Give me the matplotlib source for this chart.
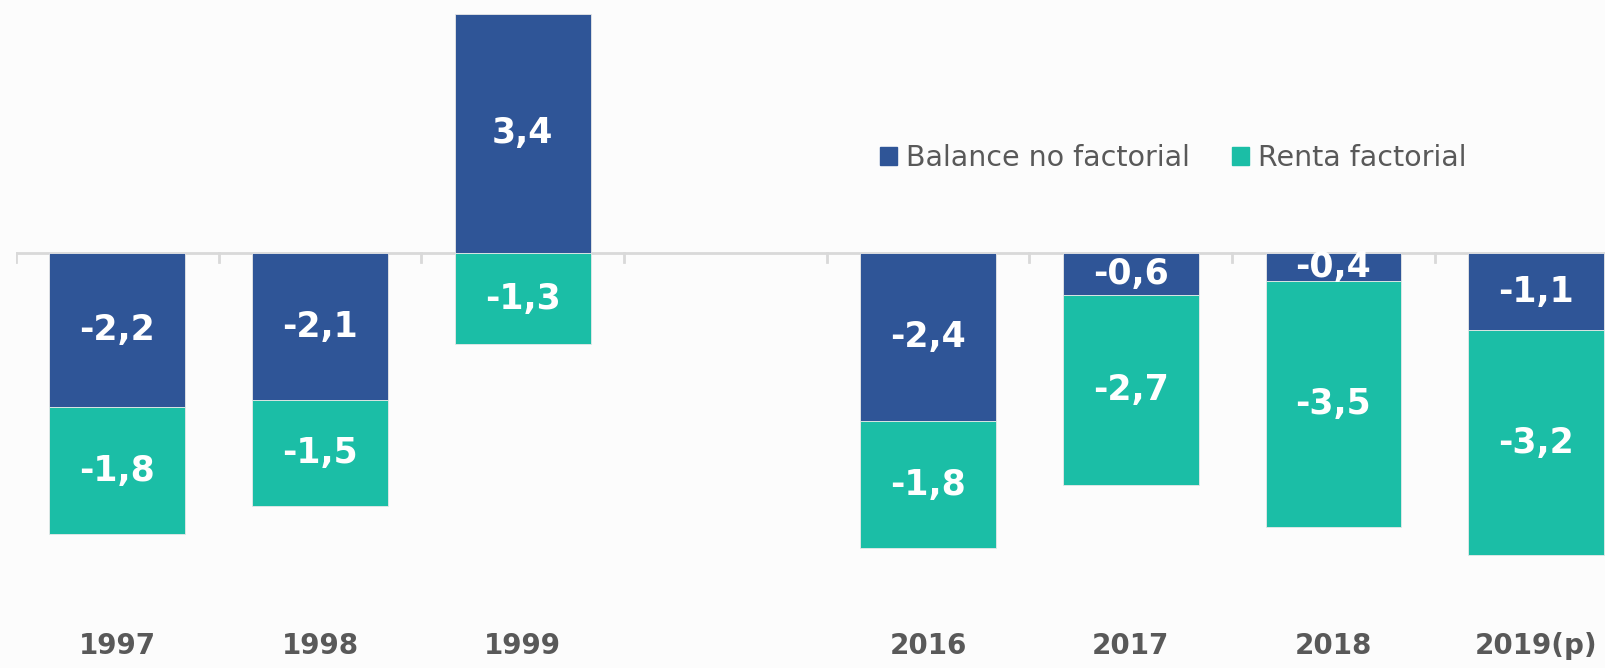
import matplotlib
matplotlib.use("Agg")
import matplotlib.pyplot as plt
from matplotlib.patches import Patch

# datos (% del PIB)
years = ["1997", "1998", "1999", "", "2016", "2017", "2018", "2019(p)"]
balance_nf = [-2.2, -2.1, 3.4, None, -2.4, -0.6, -0.4, -1.1]
renta_f = [-1.8, -1.5, -1.3, None, -1.8, -2.7, -3.5, -3.2]

c_blue = "#2F5597"
c_green = "#1BBEA6"
c_text = "#595959"

plt.rcParams['font.family'] = ['DejaVu Sans']

fig = plt.figure(figsize=(16.06, 6.68), dpi=100, facecolor="#fcfcfc")
ax = fig.add_axes([16 / 1606, 0, 1 - 16 / 1606, 1])
ax.set_facecolor("#fcfcfc")


def lab(v):
    return ("%.1f" % v).replace(".", ",")


w = 0.67
for i in range(len(years)):
    b = balance_nf[i]
    r = renta_f[i]
    if b is None:
        continue
    ax.bar(i, b, w, color=c_blue, edgecolor="#e8e8e8", linewidth=0.6, zorder=2)
    # la renta se apila bajo el balance si es negativo, bajo cero si es positivo
    base = b if b < 0 else 0
    ax.bar(i, r, w, bottom=base, color=c_green, edgecolor="#e8e8e8", linewidth=0.6, zorder=2)
    ax.text(i, b / 2, lab(b), ha="center", va="center", color="white",
            fontsize=25, fontweight="bold", zorder=3)
    ax.text(i, base + r / 2, lab(r), ha="center", va="center", color="white",
            fontsize=25, fontweight="bold", zorder=3)

ax.set_xlim(-0.5, 7.345)
ax.set_ylim(-5.91, 3.6)

# eje en cero con marcas entre categorías
ax.axhline(0, color="#d9d9d9", linewidth=2, zorder=1)
for t in range(len(years)):
    ax.plot([t - 0.5, t - 0.5], [0, -0.13], color="#d9d9d9", linewidth=2, zorder=1)

for s in ax.spines.values():
    s.set_visible(False)
ax.set_xticks([])
ax.set_yticks([])

for i, y in enumerate(years):
    ax.text(i, -5.6, y, ha="center", va="center", color=c_text,
            fontsize=20, fontweight="bold")

handles = [Patch(color=c_blue, label="Balance no factorial"),
           Patch(color=c_green, label="Renta factorial")]
leg = fig.legend(handles=handles, loc="center left", ncol=2, frameon=False,
                 bbox_to_anchor=(880 / 1606, 1 - 158 / 668), borderaxespad=0,
                 borderpad=0, fontsize=20.5, handlelength=0.6, handleheight=0.6,
                 handletextpad=0.3, columnspacing=1.5)
for t in leg.get_texts():
    t.set_color(c_text)

fig.savefig("out.png", dpi=100, facecolor=fig.get_facecolor())
